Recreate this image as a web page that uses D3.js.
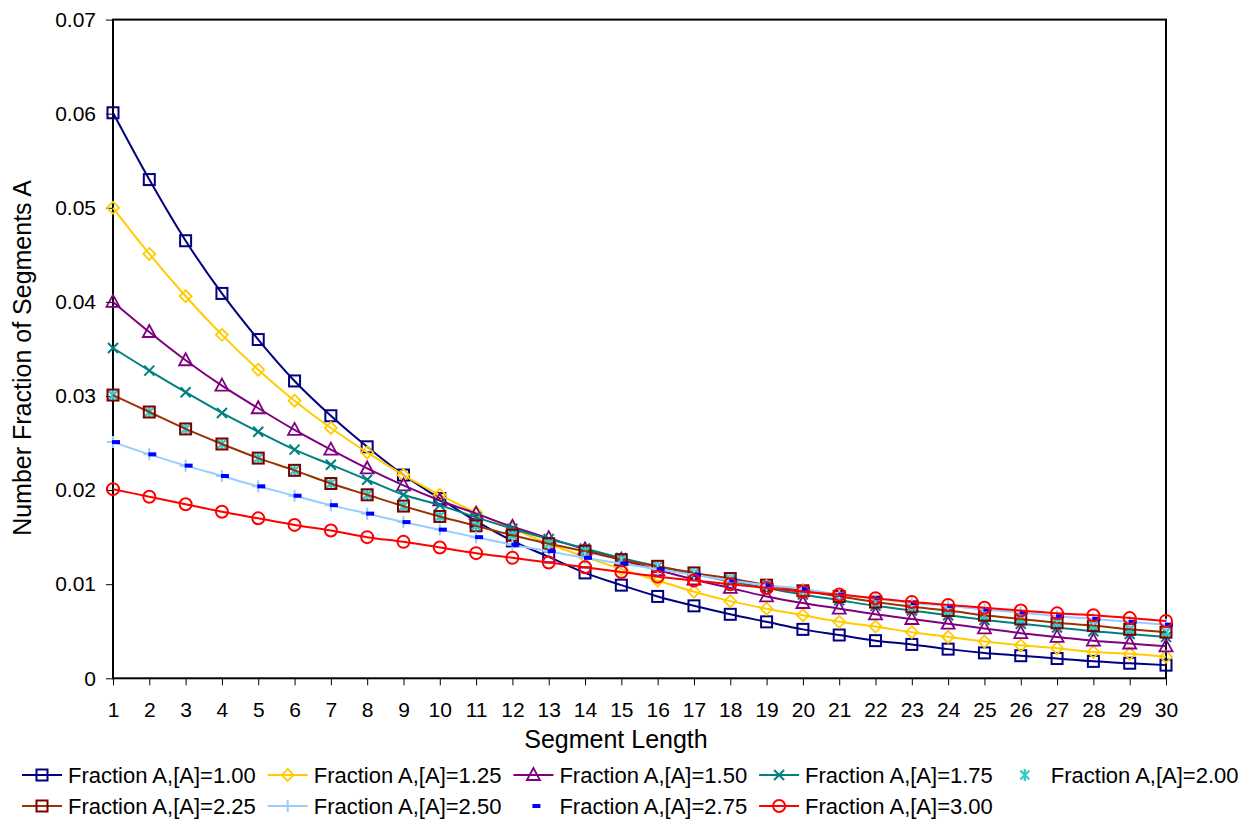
<!DOCTYPE html>
<html>
<head>
<meta charset="utf-8">
<script src="https://cdn.jsdelivr.net/npm/d3@7/dist/d3.min.js"></script>
<style>
  body { margin: 0; background: #fff; }
  svg { display: block; font-family: "Liberation Sans", Arial, sans-serif; }
</style>
</head>
<body>
<svg id="chart" width="1246" height="821"></svg>
<script>
const segLength = d3.range(1, 31);
const yTicks = [0, 0.01, 0.02, 0.03, 0.04, 0.05, 0.06, 0.07];

const fracA100 = [0.0601, 0.0530, 0.0465, 0.0409, 0.0360, 0.0316, 0.0279, 0.0246, 0.0216, 0.0191,
  0.0167, 0.0146, 0.0129, 0.0112, 0.0099, 0.0087, 0.0077, 0.0068, 0.0060, 0.0052,
  0.0046, 0.0040, 0.0036, 0.0031, 0.0027, 0.0024, 0.0021, 0.0018, 0.0016, 0.0014];
const fracA125 = [0.0500, 0.0451, 0.0406, 0.0365, 0.0328, 0.0295, 0.0266, 0.0240, 0.0216, 0.0195,
  0.0176, 0.0159, 0.0143, 0.0129, 0.0116, 0.0104, 0.0092, 0.0082, 0.0074, 0.0067,
  0.0060, 0.0055, 0.0049, 0.0044, 0.0039, 0.0035, 0.0032, 0.0028, 0.0026, 0.0023];
const fracA150 = [0.0400, 0.0368, 0.0338, 0.0311, 0.0287, 0.0264, 0.0243, 0.0223, 0.0205, 0.0189,
  0.0175, 0.0161, 0.0149, 0.0137, 0.0126, 0.0115, 0.0105, 0.0096, 0.0087, 0.0080,
  0.0074, 0.0068, 0.0063, 0.0058, 0.0053, 0.0048, 0.0044, 0.0040, 0.0037, 0.0034];
const fracA175 = [0.0351, 0.0327, 0.0304, 0.0282, 0.0262, 0.0243, 0.0227, 0.0211, 0.0195, 0.0184,
  0.0171, 0.0159, 0.0148, 0.0138, 0.0128, 0.0119, 0.0111, 0.0103, 0.0096, 0.0089,
  0.0083, 0.0077, 0.0072, 0.0067, 0.0062, 0.0058, 0.0054, 0.0050, 0.0047, 0.0044];
const fracA200 = [0.0301, 0.0283, 0.0265, 0.0249, 0.0234, 0.0221, 0.0207, 0.0195, 0.0183, 0.0172,
  0.0162, 0.0152, 0.0143, 0.0135, 0.0126, 0.0119, 0.0112, 0.0106, 0.0099, 0.0093,
  0.0087, 0.0081, 0.0076, 0.0072, 0.0067, 0.0063, 0.0059, 0.0056, 0.0052, 0.0049];
const fracA225 = [0.0301, 0.0283, 0.0265, 0.0249, 0.0234, 0.0221, 0.0207, 0.0195, 0.0183, 0.0172,
  0.0162, 0.0152, 0.0143, 0.0135, 0.0126, 0.0119, 0.0112, 0.0106, 0.0099, 0.0093,
  0.0087, 0.0081, 0.0076, 0.0072, 0.0067, 0.0063, 0.0059, 0.0056, 0.0052, 0.0049];
const fracA250 = [0.0251, 0.0238, 0.0226, 0.0215, 0.0204, 0.0194, 0.0184, 0.0175, 0.0166, 0.0158,
  0.0150, 0.0142, 0.0135, 0.0128, 0.0122, 0.0116, 0.0110, 0.0104, 0.0099, 0.0095,
  0.0089, 0.0085, 0.0080, 0.0077, 0.0073, 0.0070, 0.0066, 0.0063, 0.0060, 0.0057];
const fracA275 = [0.0251, 0.0238, 0.0226, 0.0215, 0.0204, 0.0194, 0.0184, 0.0175, 0.0166, 0.0158,
  0.0150, 0.0142, 0.0135, 0.0128, 0.0122, 0.0116, 0.0110, 0.0104, 0.0099, 0.0095,
  0.0089, 0.0085, 0.0080, 0.0077, 0.0073, 0.0070, 0.0066, 0.0063, 0.0060, 0.0057];
const fracA300 = [0.0201, 0.0193, 0.0185, 0.0177, 0.0170, 0.0163, 0.0157, 0.0150, 0.0145, 0.0139,
  0.0133, 0.0128, 0.0123, 0.0118, 0.0113, 0.0108, 0.0104, 0.0100, 0.0096, 0.0092,
  0.0089, 0.0085, 0.0081, 0.0078, 0.0075, 0.0072, 0.0069, 0.0067, 0.0064, 0.0061];

const seriesNames = ['Fraction A,[A]=1.00', 'Fraction A,[A]=1.25', 'Fraction A,[A]=1.50',
  'Fraction A,[A]=1.75', 'Fraction A,[A]=2.00', 'Fraction A,[A]=2.25',
  'Fraction A,[A]=2.50', 'Fraction A,[A]=2.75', 'Fraction A,[A]=3.00'];
const seriesValues = [fracA100, fracA125, fracA150, fracA175, fracA200, fracA225, fracA250, fracA275, fracA300];

// look of each series (line colour, marker kind and colour)
const styles = [
  { line: '#000080', marker: 'square', mc: '#000080' },
  { line: '#FFCC00', marker: 'diamond', mc: '#FFCC00' },
  { line: '#800080', marker: 'triangle', mc: '#800080' },
  { line: '#008080', marker: 'x', mc: '#008080' },
  { line: null, marker: 'star', mc: '#33CCCC' },
  { line: '#993300', marker: 'square', mc: '#800000' },
  { line: '#99CCFF', marker: 'plus', mc: '#99CCFF' },
  { line: null, marker: 'dash', mc: '#0000FF' },
  { line: '#FF0000', marker: 'circle', mc: '#FF0000' }
];

const svg = d3.select('#chart');
const plotLeft = 113, plotRight = 1166, plotTop = 19.6, plotBottom = 678.3;

const x = d3.scaleLinear().domain([1, 30]).range([plotLeft, plotRight]);
const y = d3.scaleLinear().domain([0, 0.07]).range([plotBottom, plotTop]);

svg.append('rect').attr('width', 1246).attr('height', 821).attr('fill', '#fff');

function drawMarker(g, kind, cx, cy, color) {
  const m = g.append('g').attr('transform', `translate(${cx},${cy})`)
    .attr('fill', 'none').attr('stroke', color).attr('stroke-width', 2);
  if (kind === 'square') {
    m.append('rect').attr('x', -5.5).attr('y', -5.5).attr('width', 11).attr('height', 11);
  } else if (kind === 'diamond') {
    m.append('path').attr('d', 'M0,-6L6,0L0,6L-6,0Z').attr('stroke-width', 1.8);
  } else if (kind === 'triangle') {
    m.append('path').attr('d', 'M0,-7L6.5,5L-6.5,5Z').attr('stroke-width', 1.8);
  } else if (kind === 'x') {
    m.append('path').attr('d', 'M-5,-5L5,5M-5,5L5,-5');
  } else if (kind === 'star') {
    m.append('path').attr('d', 'M-4.5,-4.5L4.5,4.5M-4.5,4.5L4.5,-4.5M0,-6L0,6').attr('stroke-width', 2.4);
  } else if (kind === 'plus') {
    m.append('path').attr('d', 'M-6,0L6,0M0,-6L0,6');
  } else if (kind === 'dash') {
    m.append('rect').attr('x', -1).attr('y', -2).attr('width', 8).attr('height', 4)
      .attr('fill', color).attr('stroke', 'none');
  } else if (kind === 'circle') {
    m.append('circle').attr('r', 6);
  }
}

// axes
svg.append('g')
  .attr('transform', `translate(${plotLeft},0)`)
  .call(d3.axisLeft(y).tickValues(yTicks)
    .tickFormat(d => d === 0 ? '0' : d3.format('.2f')(d))
    .tickSize(7).tickPadding(10).tickSizeOuter(0))
  .call(g => g.select('.domain').remove())
  .call(g => g.selectAll('text').attr('font-size', 21).attr('fill', '#000')
    .attr('font-family', '"Liberation Sans", Arial, sans-serif'));

svg.append('g')
  .attr('transform', `translate(0,${plotBottom})`)
  .call(d3.axisBottom(x).tickValues(segLength)
    .tickFormat(d3.format('d'))
    .tickSize(7).tickPadding(17).tickSizeOuter(0))
  .call(g => g.select('.domain').remove())
  .call(g => g.selectAll('text').attr('font-size', 21).attr('fill', '#000')
    .attr('font-family', '"Liberation Sans", Arial, sans-serif'));

svg.append('rect')
  .attr('x', plotLeft).attr('y', plotTop)
  .attr('width', plotRight - plotLeft).attr('height', plotBottom - plotTop)
  .attr('fill', 'none').attr('stroke', '#000').attr('stroke-width', 2);

// series
const line = d3.line()
  .x((d, i) => x(segLength[i]))
  .y(d => y(d))
  .curve(d3.curveCatmullRom.alpha(0));

const plot = svg.append('g');
seriesValues.forEach((vals, s) => {
  const st = styles[s];
  const g = plot.append('g');
  if (st.line) {
    g.append('path').attr('d', line(vals))
      .attr('fill', 'none').attr('stroke', st.line).attr('stroke-width', 2);
  }
  vals.forEach((v, i) => drawMarker(g, st.marker, x(segLength[i]), y(v), st.mc));
});

// axis titles
svg.append('text')
  .attr('x', 616).attr('y', 748)
  .attr('text-anchor', 'middle').attr('font-size', 25)
  .text('Segment Length');

svg.append('text')
  .attr('transform', 'translate(31,358) rotate(-90)')
  .attr('text-anchor', 'middle').attr('font-size', 25)
  .text('Number Fraction of Segments A');

// legend
const legend = svg.append('g');
seriesNames.forEach((name, s) => {
  const col = s % 5, row = Math.floor(s / 5);
  const tx = 68 + col * 245.7;
  const by = row === 0 ? 783 : 814;
  const cy = by - 8;
  const st = styles[s];
  const g = legend.append('g');
  if (st.line) {
    g.append('line').attr('x1', tx - 46).attr('x2', tx - 6)
      .attr('y1', cy).attr('y2', cy)
      .attr('stroke', st.line).attr('stroke-width', 2);
  }
  drawMarker(g, st.marker, tx - 26, cy, st.mc);
  g.append('text').attr('x', tx).attr('y', by)
    .attr('font-size', 22).text(name);
});
</script>
</body>
</html>
